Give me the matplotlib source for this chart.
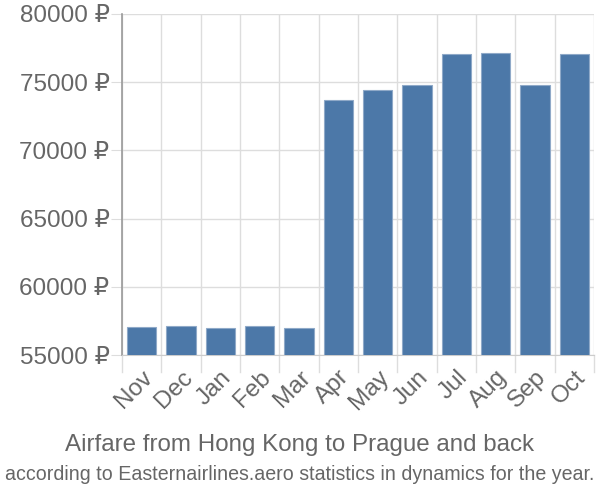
import matplotlib
matplotlib.use("Agg")
import matplotlib.pyplot as plt
import numpy as np

months = ["Nov", "Dec", "Jan", "Feb", "Mar", "Apr", "May", "Jun", "Jul", "Aug", "Sep", "Oct"]
prices = [57050, 57100, 57000, 57100, 57000, 73700, 74400, 74800, 77050, 77120, 74800, 77050]
yticks = [55000, 60000, 65000, 70000, 75000, 80000]

plt.rcParams['font.family'] = ['Liberation Sans', 'DejaVu Sans']

fig = plt.figure(figsize=(6, 5), dpi=100)
ax = fig.add_axes([122/600, 1-355/500, (594-122)/600, (355-14)/500])

x = np.arange(len(months))
ax.bar(x, prices, width=0.74, color="#4c78a8", edgecolor="#8fa9c8", linewidth=0.8, zorder=3)
ax.set_xlim(-0.5, len(months) - 0.5)
ax.set_ylim(55000, 80000)

ax.set_yticks(yticks)
ax.set_yticklabels([f"{v} ₽" for v in yticks], fontsize=17.5, color="#666666")
ax.set_xticks(x)
ax.set_xticklabels(months, rotation=45, ha="right", rotation_mode="anchor", fontsize=17.5, color="#666666")

# grid
for xv in np.arange(-0.5, len(months) + 0.5, 1):
    ax.axvline(xv, color="#dddddd", linewidth=1, zorder=1)
for yv in yticks:
    ax.axhline(yv, color="#dddddd", linewidth=1, zorder=1)

ax.tick_params(axis="y", length=8, color="#dddddd", pad=1)
ax.tick_params(axis="x", length=0, pad=8)
for xv in np.arange(-0.5, len(months) + 0.5, 1):
    ax.plot([xv, xv], [0, -0.05], transform=ax.get_xaxis_transform(), color="#dddddd", linewidth=1, clip_on=False)

for s in ["top", "right"]:
    ax.spines[s].set_visible(False)
ax.spines["bottom"].set_color("#cccccc")
ax.spines["left"].set_color("#999999")
ax.spines["left"].set_linewidth(1.2)

fig.text(0.5, 1-445/500, "Airfare from Hong Kong to Prague and back", ha="center", va="center", fontsize=17.4, color="#666666")
fig.text(0.5, 1-475/500, "according to Easternairlines.aero statistics in dynamics for the year.", ha="center", va="center", fontsize=14.1, color="#666666")

fig.savefig("out.png", dpi=100)
